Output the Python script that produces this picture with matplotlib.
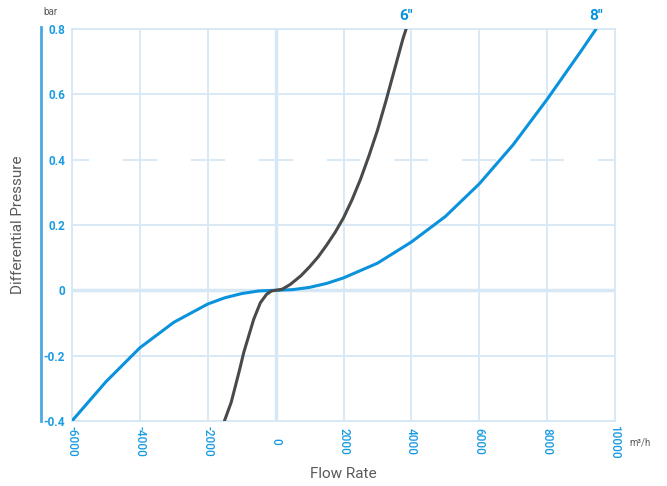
import matplotlib.pyplot as plt

# --- data ---
flow_8 = [-6000, -5000, -4000, -3000, -2000, -1500, -1000, -500, 0, 500, 1000, 1500,
          2000, 3000, 4000, 5000, 6000, 7000, 8000, 9000, 9440]
dp_8 = [-0.40, -0.280, -0.176, -0.098, -0.042, -0.023, -0.010, -0.002, 0.0, 0.002, 0.009, 0.021,
        0.038, 0.083, 0.148, 0.226, 0.326, 0.446, 0.585, 0.733, 0.80]

flow_6 = [-1509, -1312, -1185, -1059, -941, -794, -647, -450, -265, -120, 0,
          188, 432, 750, 1000, 1250, 1500, 1750, 2000, 2250, 2500, 2750, 3000,
          3250, 3500, 3750, 3844]
dp_6 = [-0.40, -0.344, -0.293, -0.242, -0.191, -0.14, -0.089, -0.038, -0.012, -0.002, 0.0,
        0.003, 0.018, 0.045, 0.072, 0.102, 0.138, 0.177, 0.222, 0.277, 0.340, 0.412, 0.49,
        0.58, 0.675, 0.77, 0.80]

x_ticks = [-6000, -4000, -2000, 0, 2000, 4000, 6000, 8000, 10000]
y_ticks = [-0.4, -0.2, 0, 0.2, 0.4, 0.6, 0.8]
y_labels = ['-0.4', '-0.2', '0', '0.2', '0.4', '0.6', '0.8']

BLUE = '#0a92dd'
DARK = '#4a4a4a'
GRID = '#d6e8f6'
LABEL_BLUE = '#1a9be2'
GREY = '#5a5a5a'

plt.rcParams['font.family'] = ['Roboto', 'DejaVu Sans']

fig = plt.figure(figsize=(6.67, 4.86), dpi=100)
ax = fig.add_axes([0.108, 0.134, 0.814, 0.806])

ax.set_xlim(-6000, 10000)
ax.set_ylim(-0.4, 0.8)

# grid
for x in x_ticks:
    lw = 2.5 if x == 0 else 1.3
    ax.axvline(x, color=GRID, lw=lw, zorder=1)
for y in y_ticks:
    if y == 0.4:
        # the 0.4 line is only drawn as short pieces around the vertical lines
        for x in x_ticks:
            ax.hlines(y, x - 500, x + 500, color=GRID, lw=1.3, zorder=1)
    else:
        lw = 2.5 if y == 0 else 1.3
        ax.axhline(y, color=GRID, lw=lw, zorder=1)

for side in ['top', 'right', 'bottom', 'left']:
    ax.spines[side].set_color(GRID)
    ax.spines[side].set_linewidth(1.3)

# curves
ax.plot(flow_8, dp_8, color=BLUE, lw=2.2, zorder=3, solid_capstyle='round', solid_joinstyle='round')
ax.plot(flow_6, dp_6, color=DARK, lw=2.2, zorder=3, solid_capstyle='round', solid_joinstyle='round')

ax.annotate('8"', (flow_8[-1], dp_8[-1]), xytext=(0, 9.5), textcoords='offset points',
            ha='center', va='center', color=BLUE, fontsize=11, fontweight='bold')
ax.annotate('6"', (flow_6[-1], dp_6[-1]), xytext=(0, 9.5), textcoords='offset points',
            ha='center', va='center', color=BLUE, fontsize=11, fontweight='bold')

# ticks
ax.set_xticks(x_ticks)
ax.set_xticklabels([str(x) for x in x_ticks])
ax.set_yticks(y_ticks)
ax.set_yticklabels(y_labels)
ax.tick_params(axis='both', length=0, labelcolor=LABEL_BLUE, labelsize=8.5)
ax.tick_params(axis='x', pad=15)
ax.tick_params(axis='y', pad=5)
for lab in ax.get_xticklabels():
    lab.set_rotation(270)
    lab.set_va('center')
    lab.set_ha('center')
    lab.set_fontweight('medium')
for lab in ax.get_yticklabels():
    lab.set_fontweight('bold')

# separate left axis line
ax.plot([-0.057, -0.057], [0, 1.005], transform=ax.transAxes, color='#4aa9e2',
        lw=2, clip_on=False)

ax.set_xlabel('Flow Rate', color=GREY, fontsize=11, labelpad=6)
ax.set_ylabel('Differential Pressure', color=GREY, fontsize=11)
ax.yaxis.set_label_coords(-0.087, 0.5)

fig.text(50 / 667, 1 - 12 / 486, 'bar', color=GREY, fontsize=7, ha='center', va='center')
fig.text(640 / 667, 1 - 442 / 486, 'm³/h', color=GREY, fontsize=7, ha='center', va='center')

fig.savefig('out.png', dpi=100)
